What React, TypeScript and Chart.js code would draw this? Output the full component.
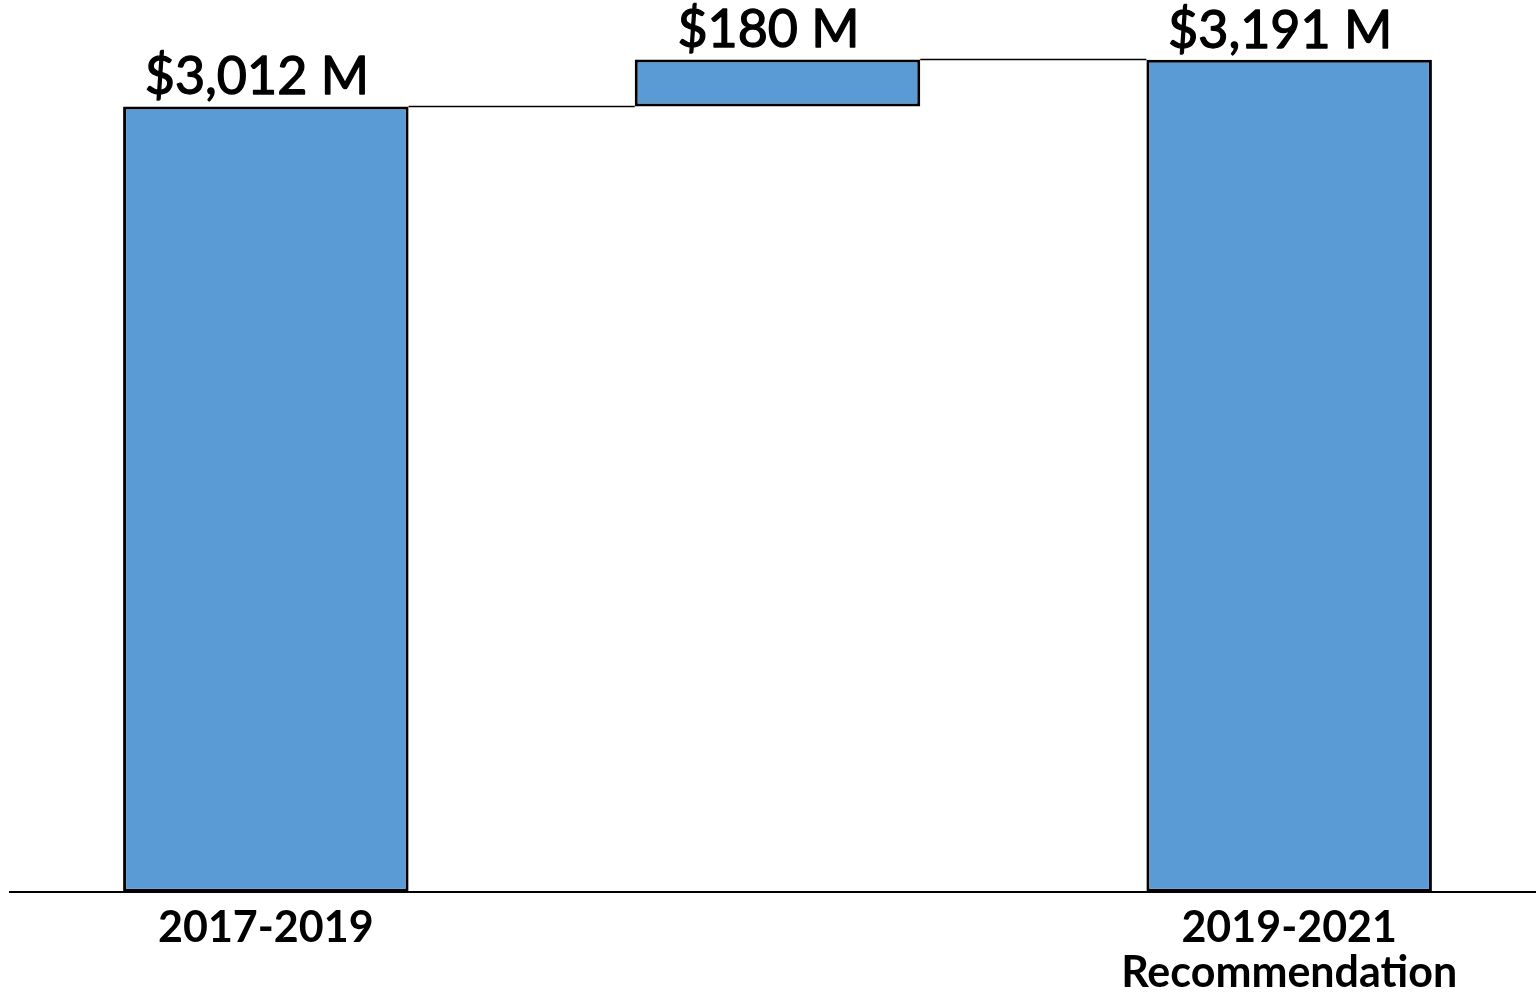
import React, { useEffect, useRef } from "react";
import { Chart, registerables } from "chart.js";

Chart.register(...registerables);

const categories: (string | string[])[] = ["2017-2019", "", ["2019-2021", "Recommendation"]];
const values = [3012, 180, 3191];
const kinds = ["total", "delta", "total"];
const valueLabels = ["$3,012 M", "$180 M", "$3,191 M"];

const BAR_FILL = "#5B9BD5";

function buildRanges(): [number, number][] {
  const out: [number, number][] = [];
  let running = 0;
  values.forEach((v, i) => {
    if (kinds[i] === "total") {
      out.push([0, v]);
      running = v;
    } else {
      out.push([running, running + v]);
      running += v;
    }
  });
  return out;
}

const waterfallPlugin = {
  id: "waterfallExtras",
  afterDatasetsDraw(chart: any) {
    const ctx = chart.ctx as CanvasRenderingContext2D;
    const meta = chart.getDatasetMeta(0);
    const yScale = chart.scales.y;
    const ranges = buildRanges();
    ctx.save();
    // connectors
    ctx.strokeStyle = "#000";
    ctx.lineWidth = 1.5;
    for (let i = 0; i < meta.data.length - 1; i++) {
      const a = meta.data[i] as any;
      const b = meta.data[i + 1] as any;
      const level = ranges[i][1];
      const y = Math.round(yScale.getPixelForValue(level)) + 0.5;
      ctx.beginPath();
      ctx.moveTo(a.x + a.width / 2, y);
      ctx.lineTo(b.x - b.width / 2, y);
      ctx.stroke();
    }
    // value labels (semi-bold look)
    ctx.fillStyle = "#000";
    ctx.strokeStyle = "#000";
    ctx.lineWidth = 1.3;
    ctx.lineJoin = "round";
    ctx.font = "52px Lato, sans-serif";
    ctx.textAlign = "center";
    ctx.textBaseline = "alphabetic";
    meta.data.forEach((el: any, i: number) => {
      const top = yScale.getPixelForValue(ranges[i][1]);
      ctx.fillText(valueLabels[i], el.x - 9, top - 12);
      ctx.strokeText(valueLabels[i], el.x - 9, top - 12);
    });
    ctx.restore();
  },
};

export default function App() {
  const ref = useRef<HTMLCanvasElement | null>(null);
  useEffect(() => {
    if (!ref.current) return;
    const chart = new Chart(ref.current, {
      type: "bar",
      data: {
        labels: categories,
        datasets: [
          {
            data: buildRanges() as any,
            backgroundColor: BAR_FILL,
            borderColor: "#000",
            borderWidth: 3,
            borderSkipped: false,
            categoryPercentage: 1,
            barPercentage: 0.558,
          },
        ],
      },
      options: {
        animation: false,
        responsive: true,
        maintainAspectRatio: false,
        layout: { padding: { left: 10, right: 0, top: 0, bottom: 0 } },
        plugins: {
          legend: { display: false },
          tooltip: { enabled: false },
        },
        scales: {
          x: {
            grid: { display: false, drawOnChartArea: false, drawTicks: false },
            border: { display: true, color: "#000", width: 2 },
            ticks: {
              color: "#000",
              padding: 14,
              font: { family: "Lato, 'Open Sans', sans-serif", size: 43, weight: "bold", lineHeight: 1.05 },
              maxRotation: 0,
              autoSkip: false,
            },
          },
          y: {
            display: false,
            min: 0,
            max: 3420,
          },
        },
      },
      plugins: [waterfallPlugin],
    });
    return () => chart.destroy();
  }, []);
  return (
    <div style={{ position: "fixed", left: 0, top: 0, width: 1536, height: 992, overflow: "hidden", background: "#fff" }}>
      <div style={{ position: "absolute", left: 0, top: 0, width: 1545, height: 1010 }}>
        <canvas ref={ref} />
      </div>
    </div>
  );
}
